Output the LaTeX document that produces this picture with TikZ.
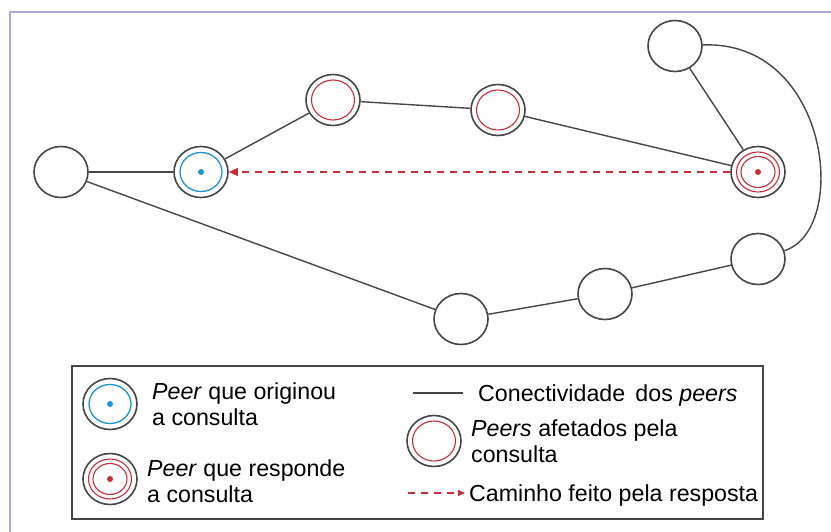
\documentclass[tikz,border=0pt]{standalone}
\usepackage{fontspec}
\setmainfont{Liberation Sans}
\usetikzlibrary{shapes.geometric,arrows.meta}
\definecolor{azul}{RGB}{25,150,215}
\definecolor{vermelho}{RGB}{200,45,55}
\definecolor{cinza}{RGB}{70,70,70}
\definecolor{moldura}{RGB}{175,170,220}
\tikzset{
  peer/.style={ellipse,draw=cinza,line width=1.6pt,fill=white,
    minimum width=54,minimum height=51,inner sep=0pt},
  origem/.style={peer,path picture={
      \draw[azul,line width=1.3pt] (path picture bounding box.center) ellipse [x radius=21,y radius=19.5];
      \fill[azul] (path picture bounding box.center) circle (3);}},
  afetado/.style={peer,path picture={
      \draw[vermelho,line width=1.1pt] (path picture bounding box.center) ellipse [x radius=21.5,y radius=20];}},
  resposta/.style={peer,path picture={
      \draw[vermelho,line width=1.1pt] (path picture bounding box.center) ellipse [x radius=21.5,y radius=20];
      \draw[vermelho,line width=1.1pt] (path picture bounding box.center) ellipse [x radius=17,y radius=15.5];
      \fill[vermelho] (path picture bounding box.center) circle (3);}},
  conn/.style={cinza,line width=1.4pt},
  caminho/.style={vermelho,line width=1.3pt,dash pattern=on 7pt off 6pt,
    -{Triangle[length=9pt,width=8pt]}},
  rotulo/.style={anchor=base west,inner sep=0pt,align=left}
}
\begin{document}
\begin{tikzpicture}[x=1pt,y=-1pt,font=\fontsize{23.2}{25.5}\selectfont]
\useasboundingbox (0,0) rectangle (831,532);
\draw[moldura,line width=2pt] (10,532) -- (10,12) -- (831,12);

% rede de peers
\node[peer] (a) at (61,172) {};
\node[origem] (orig) at (201,172) {};
\node[afetado] (af1) at (333,100) {};
\node[afetado] (af2) at (498,110) {};
\node[peer] (topo) at (675,46) {};
\node[resposta] (resp) at (758,172) {};
\node[peer] (bd) at (758,259) {};
\node[peer] (bm) at (605,294) {};
\node[peer] (be) at (461,319) {};

\draw[conn] (a) -- (orig);
\draw[conn] (a) -- (be);
\draw[conn] (orig) -- (af1);
\draw[conn] (af1) -- (af2);
\draw[conn] (af2) -- (resp);
\draw[conn] (topo) -- (resp);
\draw[conn] (be) -- (bm);
\draw[conn] (bm) -- (bd);
\draw[conn] (topo) .. controls (830,40) and (850,230) .. (bd);
\draw[caminho] (resp) -- (orig);

% legenda (base = ultima linha)
\draw[cinza,line width=1.2pt] (72,366) rectangle (763,519);
\node[origem] (lorig) at (110,404) {};
\node[rotulo] (torig) at (152,425) {\textit{Peer} que originou\\a consulta};
\node[resposta] (lresp) at (110,479) {};
\node[rotulo] (tresp) at (147,502) {\textit{Peer} que responde\\a consulta};
\coordinate (c1) at (413,393);
\coordinate (c2) at (463,393);
\draw[conn] (c1) -- (c2);
\node[rotulo] (tconn) at (478,401) {Conectividade\ \,dos \textit{peers}};
\node[afetado] (laf) at (434,441) {};
\node[rotulo] (taf) at (471,462) {\textit{Peers} afetados pela\\consulta};
\coordinate (d1) at (408,493);
\coordinate (d2) at (465,493);
\draw[caminho,line width=1.1pt,-{Triangle[length=7pt,width=6pt]}] (d1) -- (d2);
\node[rotulo] (tcam) at (469,501) {Caminho feito pela resposta};
\end{tikzpicture}
\end{document}
